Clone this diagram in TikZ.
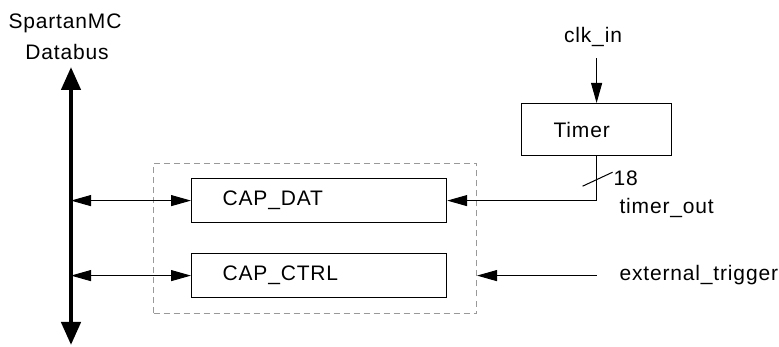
\documentclass[tikz,border=0pt]{standalone}
\usepackage{fontspec}
\setmainfont{Liberation Sans}[LetterSpace=4]
\usetikzlibrary{arrows.meta}

\begin{document}
\begin{tikzpicture}[x=1pt, y=-1pt,
    every node/.style={font=\fontsize{21}{25}\selectfont},
    regbox/.style={draw, line width=1.2pt, minimum height=44pt, inner xsep=31pt, align=left, anchor=north west},
    sig/.style={line width=1pt, -{Triangle[length=20pt,width=11pt]}},
    bisig/.style={line width=1pt, {Triangle[length=20pt,width=11pt]}-{Triangle[length=20pt,width=11pt]}}]
    \useasboundingbox (0,0) rectangle (779,347);
    % capture unit with its two registers
    \node[draw, gray!80, dashed, dash pattern=on 6pt off 4pt, line width=1pt, minimum width=323pt, minimum height=150pt, anchor=north west] (capunit) at (153,163) {};
    \node[regbox, text width=193pt] (capdat) at (191,178) {CAP\_DAT};
    \node[regbox, text width=193pt] (capctrl) at (191,253) {CAP\_CTRL};
    \node[regbox, text width=86pt, inner xsep=32pt, minimum height=52pt] (timer) at (521,103) {Timer};
    % databus
    \node (spartan) at (65,23) {SpartanMC};
    \node (databus) at (67,52) {Databus};
    \coordinate (bustop) at (71,67);
    \coordinate (busbot) at (71,345);
    \draw[line width=4.5pt, {Triangle[length=23pt,width=19pt]}-{Triangle[length=23pt,width=19pt]}] (bustop) -- (busbot);
    \draw[bisig] (bustop |- capdat.west) -- (capdat.west);
    \draw[bisig] (bustop |- capctrl.west) -- (capctrl.west);
    % timer
    \node (clkin) at (593,37) {clk\_in};
    \draw[sig] ([yshift=-8pt]clkin.south -| timer.north) -- (timer.north);
    \coordinate (tbend) at (timer.south |- capdat.east);
    \draw[sig] (timer.south) -- (tbend) -- (capdat.east);
    \draw[line width=1pt] ([shift={(-14,30)}]timer.south) -- ++(30,-14);
    \node[anchor=west] (buswidth) at (610,178) {18};
    \node[anchor=west] (timerout) at (616,208) {timer\_out};
    % external trigger
    \node[anchor=west] (exttrig) at (616,275) {external\_trigger};
    \draw[sig] (timer.south |- capctrl.east) -- (capunit.east |- capctrl.east);
\end{tikzpicture}
\end{document}
